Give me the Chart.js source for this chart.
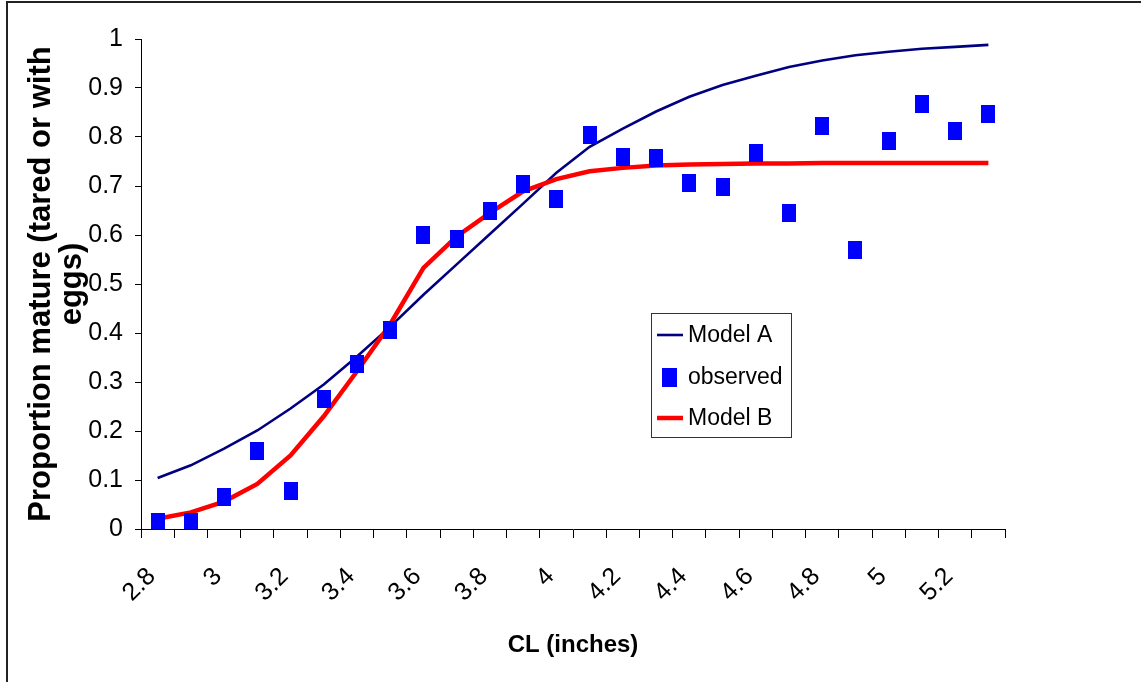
<!DOCTYPE html>
<html><head><meta charset="utf-8">
<script src="https://cdn.jsdelivr.net/npm/chart.js@4.4.1/dist/chart.umd.min.js"></script>
<style>
html,body{margin:0;padding:0;background:#fff;overflow:hidden;}
#wrap{position:relative;width:1141px;height:682px;}
#frame{position:absolute;left:6px;top:1px;width:1200px;height:800px;border-left:2px solid #222;border-top:2px solid #222;pointer-events:none;}
canvas{position:absolute;left:0;top:0;}
</style></head><body>
<div id="wrap"><canvas id="c" width="1141" height="682"></canvas><div id="frame"></div></div>
<script>
const categories = ['2.8','2.9','3','3.1','3.2','3.3','3.4','3.5','3.6','3.7','3.8','3.9','4','4.1','4.2','4.3','4.4','4.5','4.6','4.7','4.8','4.9','5','5.1','5.2','5.3'];
const modelA = [0.104,0.130,0.164,0.201,0.246,0.295,0.352,0.413,0.478,0.540,0.602,0.664,0.727,0.780,0.817,0.852,0.882,0.906,0.925,0.943,0.956,0.967,0.974,0.980,0.984,0.988];
const observed = [0.014,0.014,0.065,0.160,0.077,0.265,0.337,0.406,0.599,0.592,0.648,0.705,0.673,0.804,0.760,0.757,0.707,0.697,0.767,0.645,0.822,0.569,0.792,0.867,0.812,0.846];
const modelB = [0.021,0.034,0.056,0.092,0.150,0.230,0.322,0.418,0.533,0.597,0.645,0.689,0.714,0.730,0.737,0.742,0.744,0.745,0.746,0.746,0.747,0.747,0.747,0.747,0.747,0.747];
const yTitle = ['Proportion mature (tared or with','eggs)'];
const xTitle = 'CL (inches)';

const FONT = "'Liberation Sans', Arial, sans-serif";

function makeMarker(w, h, color){
  const cv = document.createElement('canvas');
  cv.width = w; cv.height = h;
  const g = cv.getContext('2d'); g.fillStyle = color; g.fillRect(0,0,w,h);
  return cv;
}
const marker = makeMarker(14, 18, '#0000FF');
const legendMarker = makeMarker(15, 19, '#0000FF');

const boxLegend = {
  id: 'boxLegend',
  afterDraw(chart){
    const c = chart.ctx;
    const x0 = 651, y0 = 313, w = 140, h = 124;
    c.save();
    c.fillStyle = '#fff';
    c.fillRect(x0, y0, w, h);
    c.strokeStyle = '#333'; c.lineWidth = 1;
    c.strokeRect(x0 + 0.5, y0 + 0.5, w, h);
    const rows = [335, 377, 418];
    c.font = '23px ' + FONT;
    c.textBaseline = 'middle'; c.textAlign = 'left'; c.fillStyle = '#000';
    chart.data.datasets.forEach((ds, i) => {
      const y = rows[i];
      if (ds.showLine === false) {
        c.drawImage(legendMarker, 662, y - 9.5);
      } else {
        c.strokeStyle = ds.borderColor; c.lineWidth = ds.borderWidth; c.lineCap = 'butt';
        c.beginPath(); c.moveTo(657, y); c.lineTo(683, y); c.stroke();
      }
      c.fillStyle = '#000';
      c.fillText(ds.label, 688, y + 1);
    });
    c.restore();
  }
};

new Chart(document.getElementById('c'), {
  type: 'line',
  data: {
    labels: categories,
    datasets: [
      {label: 'Model A', data: modelA, borderColor: '#000080', backgroundColor: '#000080', borderWidth: 2.6, pointRadius: 0, tension: 0, fill: false, order: 3},
      {label: 'observed', data: observed, showLine: false, pointStyle: marker, pointRadius: 9, pointHoverRadius: 9, borderWidth: 0, backgroundColor: '#0000FF', borderColor: '#0000FF', order: 1},
      {label: 'Model B', data: modelB, borderColor: '#FF0000', backgroundColor: '#FF0000', borderWidth: 4.5, pointRadius: 0, tension: 0, fill: false, order: 2}
    ]
  },
  options: {
    responsive: false,
    animation: false,
    layout: {padding: {left: 0, top: 39, right: 136, bottom: 0}},
    plugins: {legend: {display: false}, tooltip: {enabled: false}},
    scales: {
      x: {
        type: 'category', offset: true,
        grid: {display: true, offset: true, drawOnChartArea: false, drawTicks: true, tickLength: 9, color: '#000', lineWidth: 1},
        border: {display: true, color: '#000', width: 1},
        ticks: {autoSkip: false, maxRotation: 45, minRotation: 45, padding: 24, labelOffset: -6, color: '#000',
          font: {family: FONT, size: 25},
          callback: (v, i) => (i % 2 === 0 ? categories[i] : '')},
        title: {display: true, text: xTitle, color: '#000', font: {family: FONT, size: 24, weight: 'bold'}, padding: {top: 0, bottom: 22}},
        afterFit: (s) => { s.height = 153; }
      },
      y: {
        min: 0, max: 1,
        grid: {display: true, drawOnChartArea: false, tickLength: 6, color: '#000', lineWidth: 1},
        border: {display: true, color: '#000', width: 1},
        ticks: {stepSize: 0.1, padding: 12, color: '#000', font: {family: FONT, size: 25},
          callback: (v) => String(Math.round(v * 10) / 10)},
        title: {display: true, text: yTitle, color: '#000', font: {family: FONT, size: 31, weight: 'bold', lineHeight: 1.03}, padding: {top: 25, bottom: 0}},
        afterFit: (s) => { s.width = 141; }
      }
    }
  },
  plugins: [boxLegend]
});
</script>
</body></html>
